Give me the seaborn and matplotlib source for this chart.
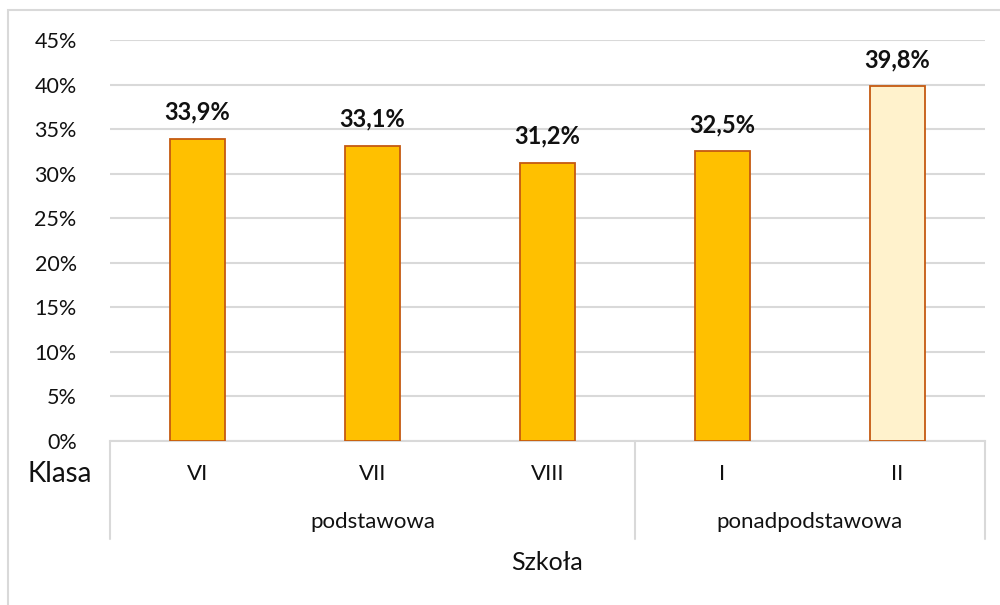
import matplotlib
matplotlib.use("Agg")
import matplotlib.pyplot as plt
import seaborn as sns
from matplotlib.patches import Rectangle

# data
klasy = ["VI", "VII", "VIII", "I", "II"]
wartosci = [33.9, 33.1, 31.2, 32.5, 39.8]
szkoly = ["podstawowa", "ponadpodstawowa"]
szkola_srodek = [1, 3.5]
kolory = ["#FFC000", "#FFC000", "#FFC000", "#FFC000", "#FFF2CC"]
y_ticks = list(range(0, 50, 5))

sns.set_theme(style="white")
plt.rcParams["font.family"] = ["Lato", "DejaVu Sans"]

fig = plt.figure(figsize=(10, 6.05), dpi=100)
ax = fig.add_axes([0.11, 1 - 441 / 605, 0.875, 401 / 605])

sns.barplot(x=klasy, y=wartosci, hue=klasy, palette=kolory, legend=False,
            width=0.31, saturation=1, edgecolor="#C55A11", linewidth=1.3,
            ax=ax, zorder=3)

ax.set_ylim(0, 45)
ax.set_xlim(-0.5, 4.5)
ax.set_yticks(y_ticks)
ax.set_yticklabels([f"{t}%" for t in y_ticks], fontsize=15.5, color="#111111")
ax.yaxis.grid(True, color="#D9D9D9", linewidth=1.5, zorder=0)
ax.tick_params(axis="y", length=0, pad=24)
ax.set_xticks([])
ax.set_xlabel("")
for s in ["left", "right", "top"]:
    ax.spines[s].set_visible(False)
ax.spines["bottom"].set_color("#D9D9D9")
ax.spines["bottom"].set_linewidth(1.5)

# value labels
for i, v in enumerate(wartosci):
    ax.text(i, v + 1.7, f"{v:.1f}%".replace(".", ","), ha="center", va="bottom",
            fontsize=17, fontweight="bold", color="#111111")

# category table below the axis
tr = ax.get_xaxis_transform()
for xv in [-0.5, 2.5, 4.5]:
    ax.plot([xv, xv], [0, -0.245], transform=tr, color="#D9D9D9",
            linewidth=1.5, clip_on=False)
for i, k in enumerate(klasy):
    ax.text(i, -0.0825, k, transform=tr, ha="center", va="center",
            fontsize=16, color="#111111")
for xs, s in zip(szkola_srodek, szkoly):
    ax.text(xs, -0.2025, s, transform=tr, ha="center", va="center",
            fontsize=16, color="#111111")
ax.text(2, -0.3025, "Szkoła", transform=tr, ha="center", va="center",
        fontsize=18, color="#111111")
fig.text(92 / 1000, 1 - 474 / 605, "Klasa", ha="right", va="center",
         fontsize=20, color="#111111")

# chart area border
fig.patches.append(Rectangle((8 / 1000, -0.1), 1.2, 1 - 10 / 605 + 0.1,
                             transform=fig.transFigure, fill=False,
                             edgecolor="#D9D9D9", linewidth=1.5))

fig.savefig("out.png", dpi=100)
